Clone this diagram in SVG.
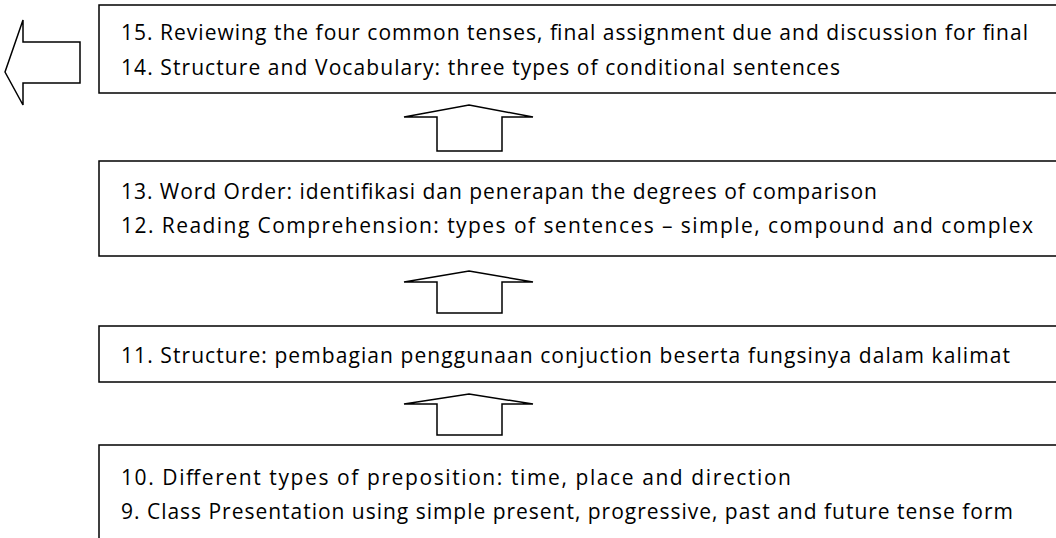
<svg xmlns="http://www.w3.org/2000/svg" width="1056" height="538" viewBox="0 0 1056 538">
<style>
.box{fill:#fff;stroke:#000;stroke-width:1.5}
.arr{fill:#fff;stroke:#000;stroke-width:1.5;stroke-linejoin:miter}
.t{font-family:"Open Sans","Noto Sans","Liberation Sans",sans-serif;font-size:21px;fill:#000}
</style>
<rect width="1056" height="538" fill="#fff"/>
<g id="node-15-14">
<rect class="box" x="99" y="5" width="1000" height="88"/>
<text class="t" x="121" y="40" textLength="907" lengthAdjust="spacing">15. Reviewing the four common tenses, final assignment due and discussion for final</text>
<text class="t" x="121" y="75" textLength="719" lengthAdjust="spacing">14. Structure and Vocabulary: three types of conditional sentences</text>
</g>
<g id="node-13-12">
<rect class="box" x="99" y="161" width="1000" height="95"/>
<text class="t" x="121" y="199" textLength="756" lengthAdjust="spacing">13. Word Order: identifikasi dan penerapan the degrees of comparison</text>
<text class="t" x="121" y="233" textLength="912" lengthAdjust="spacing">12. Reading Comprehension: types of sentences – simple, compound and complex</text>
</g>
<g id="node-11">
<rect class="box" x="99" y="326" width="1000" height="56"/>
<text class="t" x="121" y="363" textLength="889" lengthAdjust="spacing">11. Structure: pembagian penggunaan conjuction beserta fungsinya dalam kalimat</text>
</g>
<g id="node-10-9">
<rect class="box" x="99" y="445" width="1000" height="120"/>
<text class="t" x="121" y="485" textLength="670" lengthAdjust="spacing">10. Different types of preposition: time, place and direction</text>
<text class="t" x="121" y="519" textLength="892" lengthAdjust="spacing">9. Class Presentation using simple present, progressive, past and future tense form</text>
</g>
<g id="connectors">
<polygon class="arr" points="5,72 23,20 23,42 80,42 80,83 23,83 23,105"/>
<polygon class="arr" points="469,105 533,117 502,117 502,151 437,151 437,117 404,117"/>
<polygon class="arr" points="469,271 533,282 502,282 502,313 437,313 437,282 404,282"/>
<polygon class="arr" points="469,394 533,404 502,404 502,435 437,435 437,404 404,404"/>
</g>
</svg>
